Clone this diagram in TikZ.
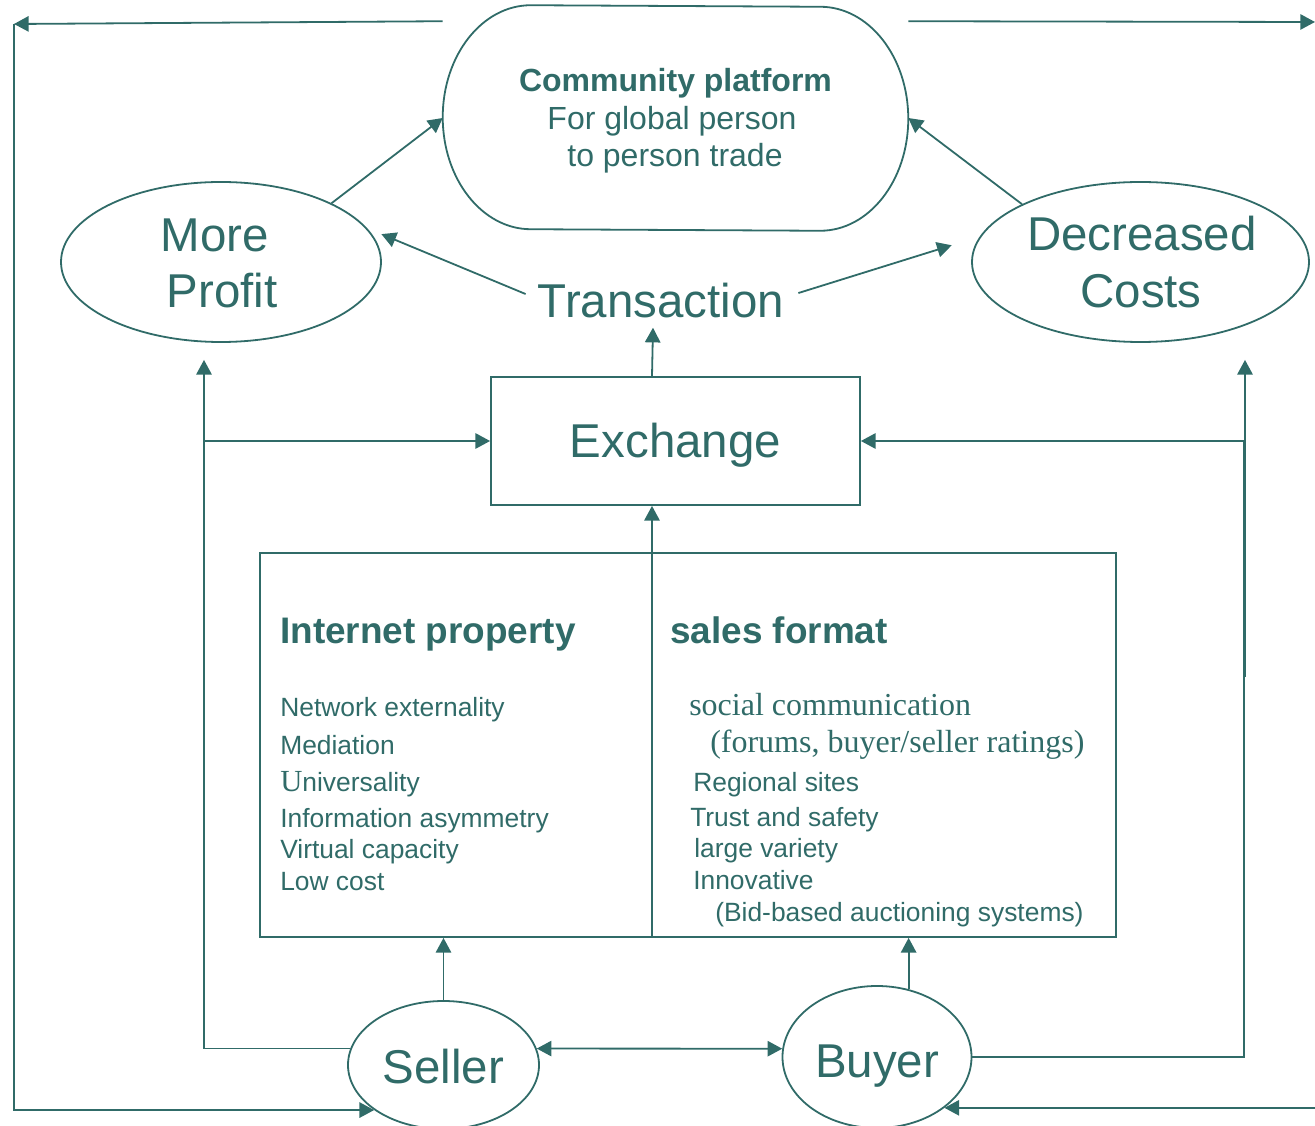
\documentclass[tikz,border=0pt]{standalone}
\usepackage{fontspec}
\setmainfont{Liberation Sans}
\newfontfamily\serifface{Liberation Serif}
\usetikzlibrary{shapes.geometric,arrows.meta,calc}
\definecolor{ink}{HTML}{306B68}
\begin{document}
\begin{tikzpicture}[x=0.75pt,y=-0.75pt,
  >={Triangle[length=11pt,width=11.5pt]},
  every node/.style={text=ink},
  line/.style={draw=ink,line width=1.35pt},
  arr/.style={line,->},
  oval/.style={ellipse,draw=ink,line width=1.35pt,inner sep=0pt},
  big/.style={font=\fontsize{35.6}{42}\selectfont},
  word/.style={big,anchor=base,inner sep=0pt},
  plat/.style={anchor=base,inner sep=0pt},
  head/.style={font=\fontsize{27.7}{33}\selectfont\bfseries,anchor=base west,inner sep=0pt},
  item/.style={font=\fontsize{19.8}{23}\selectfont,anchor=base west,inner sep=0pt},
  sitem/.style={font=\fontsize{24}{28}\selectfont\serifface,anchor=base west,inner sep=0pt}]

\useasboundingbox (0,0) rectangle (1315,1126);

% community platform: a rectangle with elliptic ends
\node[minimum width=348.75pt,minimum height=168.75pt,inner sep=0pt] (cp) at (675.5,118) {};
\draw[line] ($(cp.north west)+(88,0)$)
  arc[start angle=90,end angle=270,x radius=66pt,y radius=84pt]
  -- ($(cp.south east)+(-88,0)$)
  arc[start angle=-90,end angle=90,x radius=66pt,y radius=84pt] -- cycle;
\node[plat,font=\fontsize{24}{28}\selectfont\bfseries] (cp1) at (675.5,92) {Community platform};
\node[plat,font=\fontsize{24}{28}\selectfont] (cp2) at (672,130) {For global person};
\node[plat,font=\fontsize{24}{28}\selectfont] (cp3) at (675,167) {to person trade};

% outcome ellipses
\node[oval,minimum width=240pt,minimum height=120pt] (mp) at (221,262) {};
\node[word] (mp1) at (215,252) {More};
\node[word] (mp2) at (222,308) {Profit};

\node[oval,minimum width=252.75pt,minimum height=120pt] (dc) at (1140.5,262) {};
\node[word] (dc1) at (1142,251) {Decreased};
\node[word] (dc2) at (1141,308) {Costs};

\node[word] (tr) at (661,318) {Transaction};

\node[draw=ink,line width=1.35pt,minimum width=276.75pt,minimum height=96pt,inner sep=0pt,
      big,text height=25.5pt,text depth=0pt] (ex) at (675.5,441) {Exchange};

% property / format box
\node[draw=ink,line width=1.35pt,minimum width=642pt,minimum height=288pt,inner sep=0pt] (bb) at (688,745) {};
\coordinate (dv) at (652,937);

\node[head] (ip) at (280,644) {Internet property};
\node[item] (i1) at (280,717) {Network externality};
\node[item] (i2) at (280,754) {Mediation};
\node[item] (i3) at (280,792) {{\serifface\fontsize{23}{26}\selectfont U}niversality};
\node[item] (i4) at (280,827) {Information asymmetry};
\node[item] (i5) at (280,859) {Virtual capacity};
\node[item] (i6) at (280,890) {Low cost};

\node[head] (sf) at (670,644) {sales format};
\node[sitem] (s1) at (689,716) {social communication};
\node[sitem] (s2) at (710,753) {(forums, buyer/seller ratings)};
\node[item] (s3) at (693,792) {Regional sites};
\node[item] (s4) at (690,826) {Trust and safety};
\node[item] (s5) at (694,857) {large variety};
\node[item] (s6) at (693,889) {Innovative};
\node[item] (s7) at (715,921) {(Bid-based auctioning systems)};

% actors
\node[oval,minimum width=143.25pt,minimum height=96pt,big,text height=27pt,text depth=0pt] (se) at (443.5,1065) {Seller};
\node[oval,minimum width=141.75pt,minimum height=106.5pt,big,text height=30pt,text depth=0pt] (bu) at (877,1057) {Buyer};

% connectors
\draw[arr] (mp.28) -- (cp.west);
\draw[arr] (dc.154) -- (cp.east);
\draw[arr,shorten >=11.5pt] ([shift={(-9pt,5.25pt)}]tr.west) -- (mp.13.6);
\draw[arr,shorten >=22pt] ([shift={(10.5pt,6pt)}]tr.east) -- (dc.171.3);
\draw[arr] (dv |- ex.north) -- ($(tr.south)+(-8,9)$);
\draw[arr] (dv) -- (dv |- ex.south);

\coordinate (lc) at (204,441);
\draw[arr] (se.170) -| (lc) -- (ex.west);
\draw[arr,shorten >=12.75pt] (lc) -- (lc |- mp.south);

\coordinate (rc) at (1244,441);
\draw[arr] (bu.east) -| (rc) -- (ex.east);
\coordinate (rk) at (1245,677);
\draw[arr,shorten >=12.75pt] (rk) -- (rk |- dc.south);

\draw[line,<->] (se.10) -- (bu.175);
\draw[arr] (se.north) -- (se.north |- bb.south);
\draw[arr] (bu.65) -- (bu.65 |- bb.south);

\coordinate (tl) at (14,24);
\draw[arr] ($(cp.north west)+(0,16)$) -- (tl);
\draw[arr] (tl) |- (se.213);

\coordinate (ne) at (1315,22);
\draw[arr] ($(cp.north east)+(0,16)$) -- (ne);
\coordinate (sx) at (1320,1105);
\draw[arr] (bu.-37 -| sx) -- (bu.-37);
\end{tikzpicture}
\end{document}
